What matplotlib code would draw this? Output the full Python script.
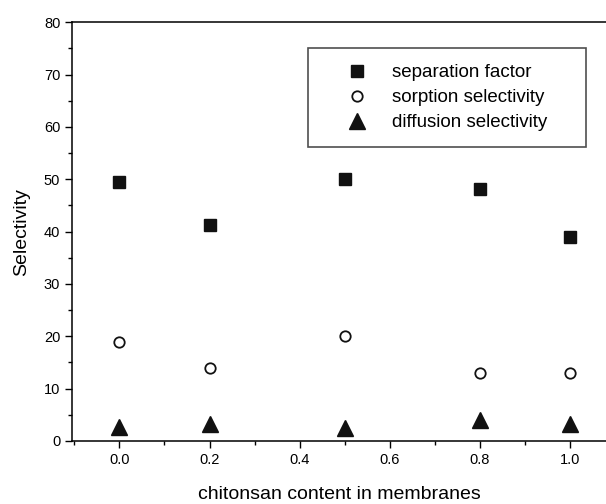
import matplotlib.pyplot as plt

plt.rcParams["font.family"] = ["Liberation Sans", "DejaVu Sans"]

# chitosan content and the three selectivity series
content = [0.0, 0.2, 0.5, 0.8, 1.0]
separation = [49.5, 41.3, 50.0, 48.2, 39.0]
sorption = [19.0, 13.9, 20.0, 12.9, 13.0]
diffusion = [2.6, 3.2, 2.5, 4.0, 3.3]

fig = plt.figure(figsize=(6.06, 5.04), dpi=100)
ax = fig.add_axes([0.119, 0.125, 0.881, 0.831])

ax.plot(content, separation, "s", color="#111111", markersize=8, label="separation factor")
ax.plot(content, sorption, "o", mfc="white", mec="#111111", mew=1.3, markersize=7.5,
        label="sorption selectivity")
ax.plot(content, diffusion, "^", color="#111111", markersize=11, label="diffusion selectivity")

ax.set_xlim(-0.105, 1.08)
ax.set_ylim(0, 80)
ax.set_xticks([0.0, 0.2, 0.4, 0.6, 0.8, 1.0])
ax.set_xticks([-0.1, 0.1, 0.3, 0.5, 0.7, 0.9], minor=True)
ax.set_yticks(range(0, 81, 10))
ax.set_yticks(range(5, 80, 10), minor=True)
ax.tick_params(direction="out", labelsize=10.5, length=5, width=1)
ax.tick_params(which="minor", direction="out", length=3, width=1)
ax.spines["right"].set_visible(False)
for s in ax.spines.values():
    s.set_linewidth(1.1)

ax.set_xlabel("chitonsan content in membranes", fontsize=14, labelpad=14)
ax.set_ylabel("Selectivity", fontsize=14, labelpad=10)

leg = ax.legend(loc="upper left", bbox_to_anchor=(0.442, 0.706, 0.521, 0.232),
                mode="expand", fontsize=13.5,
                frameon=True, fancybox=False, edgecolor="#222222",
                borderpad=0.85, handletextpad=0.15, labelspacing=0.42,
                borderaxespad=0, handlelength=3.5)
leg.get_frame().set_linewidth(1.2)

plt.savefig("out.png", dpi=100)
